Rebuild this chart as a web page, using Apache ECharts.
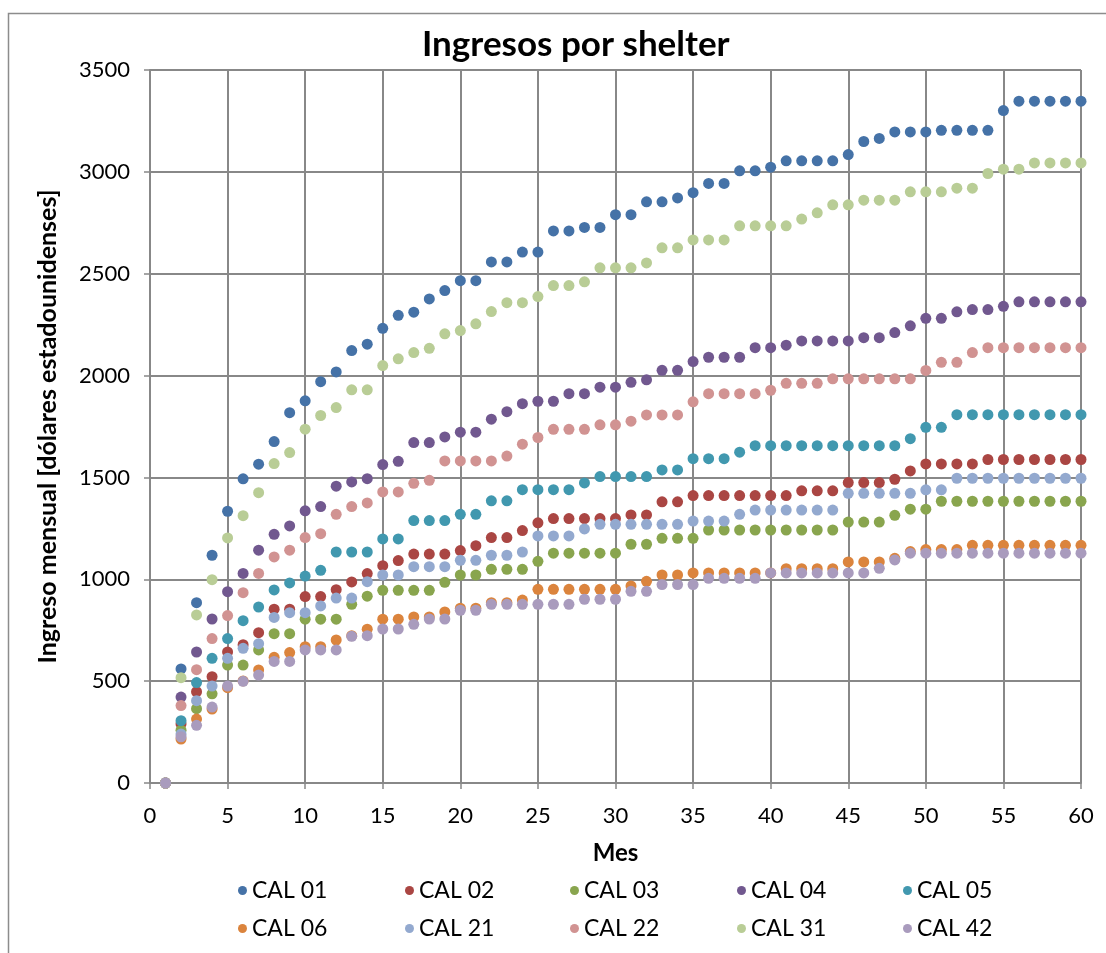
<!DOCTYPE html>
<html>
<head>
<meta charset="utf-8">
<style>
  html, body { margin: 0; padding: 0; background: #ffffff; }
  #chart { width: 1106px; height: 953px; }
</style>
<script src="https://cdn.jsdelivr.net/npm/echarts@6/dist/echarts.min.js"></script>
</head>
<body>
<div id="chart"></div>
<script>
// Months 1..60
const months = [1,2,3,4,5,6,7,8,9,10,11,12,13,14,15,16,17,18,19,20,
  21,22,23,24,25,26,27,28,29,30,31,32,33,34,35,36,37,38,39,40,
  41,42,43,44,45,46,47,48,49,50,51,52,53,54,55,56,57,58,59,60];

// Monthly income per shelter (USD)
const cal01 = [0,560,885,1118,1334,1493,1565,1676,1818,1876,1970,2018,2123,2154,2232,2296,2311,2376,2417,2466,
  2466,2558,2558,2606,2606,2710,2710,2727,2727,2790,2790,2853,2853,2872,2898,2943,2943,3005,3005,3023,
  3054,3054,3054,3054,3085,3149,3164,3196,3196,3196,3204,3204,3204,3204,3301,3347,3347,3347,3347,3347];
const cal02 = [0,290,448,522,643,679,738,853,853,915,915,949,987,1028,1067,1092,1124,1124,1124,1141,
  1165,1205,1205,1239,1277,1298,1298,1298,1298,1298,1316,1316,1380,1380,1411,1411,1411,1411,1411,1411,
  1411,1434,1434,1434,1475,1475,1475,1491,1532,1566,1566,1566,1566,1588,1588,1588,1588,1588,1588,1588];
const cal03 = [0,259,365,438,579,579,653,733,733,804,804,804,877,917,946,946,946,946,985,1021,
  1021,1049,1049,1049,1088,1128,1128,1128,1128,1128,1172,1172,1201,1201,1201,1242,1242,1242,1242,1242,
  1242,1242,1242,1242,1281,1281,1281,1314,1344,1344,1383,1383,1383,1383,1383,1383,1383,1383,1383,1383];
const cal04 = [0,422,643,805,939,1029,1143,1221,1262,1336,1357,1457,1478,1494,1563,1579,1671,1671,1699,1722,
  1722,1786,1823,1862,1874,1874,1911,1911,1943,1943,1967,1979,2026,2026,2069,2090,2090,2090,2137,2137,
  2149,2170,2170,2170,2170,2186,2186,2211,2244,2281,2281,2313,2324,2324,2340,2362,2362,2362,2362,2362];
const cal05 = [0,306,493,612,709,797,864,948,982,1016,1044,1134,1134,1134,1198,1198,1288,1288,1288,1319,
  1319,1385,1385,1440,1440,1440,1440,1473,1504,1504,1504,1504,1537,1537,1592,1592,1592,1624,1656,1656,
  1656,1656,1656,1656,1656,1656,1656,1656,1690,1746,1746,1808,1808,1808,1808,1808,1808,1808,1808,1808];
const cal06 = [0,216,314,363,468,501,555,617,640,669,669,702,723,755,804,804,815,815,840,858,
  858,885,885,898,951,951,951,951,951,951,967,990,1021,1021,1031,1031,1031,1031,1031,1031,
  1052,1052,1052,1052,1085,1085,1085,1103,1136,1146,1146,1146,1167,1167,1167,1167,1167,1167,1167,1167];
const cal21 = [0,240,404,476,612,661,684,813,836,836,869,908,908,988,1021,1021,1062,1062,1062,1093,
  1093,1118,1118,1134,1213,1213,1213,1247,1270,1270,1270,1270,1270,1270,1286,1286,1286,1319,1340,1340,
  1340,1340,1340,1340,1422,1422,1422,1422,1422,1439,1439,1496,1496,1496,1496,1496,1496,1496,1496,1496];
const cal22 = [0,380,556,709,822,934,1029,1110,1143,1205,1224,1319,1357,1375,1429,1429,1471,1486,1581,1581,
  1581,1581,1605,1663,1696,1736,1736,1736,1758,1758,1776,1807,1807,1807,1871,1911,1911,1911,1911,1928,
  1962,1962,1962,1984,1984,1984,1984,1984,1984,2025,2065,2065,2113,2137,2137,2137,2137,2137,2137,2137];
const cal31 = [0,517,825,998,1203,1312,1425,1568,1622,1737,1804,1843,1930,1930,2049,2082,2113,2134,2205,2221,
  2254,2314,2358,2358,2388,2442,2442,2460,2529,2529,2529,2553,2627,2627,2666,2666,2666,2735,2735,2735,
  2735,2768,2799,2838,2838,2861,2861,2861,2902,2902,2902,2920,2920,2992,3013,3013,3044,3044,3044,3044];
const cal42 = [0,227,283,373,476,499,530,597,597,653,653,653,720,723,756,756,779,805,805,848,
  848,877,877,877,877,877,877,902,902,902,941,941,974,974,974,1005,1005,1005,1005,1031,
  1031,1031,1031,1031,1031,1031,1054,1095,1128,1128,1128,1128,1128,1128,1128,1128,1128,1128,1128,1128];

const seriesNames = ['CAL 01','CAL 02','CAL 03','CAL 04','CAL 05','CAL 06','CAL 21','CAL 22','CAL 31','CAL 42'];
const seriesValues = [cal01, cal02, cal03, cal04, cal05, cal06, cal21, cal22, cal31, cal42];
const seriesColors = ['#4572A7','#AA4643','#89A54E','#71588F','#4198AF','#DB843D','#93A9CF','#D19392','#B9CD96','#A99BBD'];

const xTicks = [0,5,10,15,20,25,30,35,40,45,50,55,60];
const yTicks = [0,500,1000,1500,2000,2500,3000,3500];

const FONT = 'Lato, "Open Sans", sans-serif';
const GRID_COLOR = '#888888';

const chart = echarts.init(document.getElementById('chart'), null, { renderer: 'canvas' });

const series = seriesNames.map((name, i) => ({
  name: name,
  type: 'scatter',
  symbol: 'circle',
  symbolSize: 11,
  itemStyle: { color: seriesColors[i], opacity: 1 },
  emphasis: { disabled: true },
  data: months.map((m, k) => [m, seriesValues[i][k]]),
  z: 2 + i
}));

// Legend laid out as a 5 x 2 table: one legend block per entry
const legendCols = [233, 400, 565, 732, 898];
const legendRows = [874, 912];
const legends = seriesNames.map((name, i) => ({
  left: legendCols[i % 5],
  top: legendRows[Math.floor(i / 5)],
  orient: 'horizontal',
  icon: 'circle',
  itemWidth: 9,
  itemHeight: 9,
  itemGap: 0,
  textStyle: { fontFamily: FONT, fontSize: 23, color: '#000' },
  selectedMode: false,
  data: [name]
}));

chart.setOption({
  animation: false,
  backgroundColor: '#ffffff',
  title: {
    text: 'Ingresos por shelter',
    left: 417,
    top: 22,
    textStyle: { fontFamily: FONT, fontSize: 35, fontWeight: 'bold', color: '#000' }
  },
  graphic: [{
    type: 'rect',
    shape: { x: 8.5, y: 13.5, width: 1200, height: 1000 },
    style: { fill: null, stroke: '#8c8c8c', lineWidth: 1.5 },
    silent: true,
    z: -1
  }],
  grid: { left: 150, right: 25, top: 70, bottom: 170, containLabel: false },
  xAxis: {
    type: 'value',
    min: xTicks[0],
    max: xTicks[xTicks.length - 1],
    interval: 5,
    name: 'Mes',
    nameLocation: 'middle',
    nameGap: 58,
    nameTextStyle: { fontFamily: FONT, fontSize: 24, fontWeight: 'bold', color: '#000' },
    axisLine: { show: true, lineStyle: { color: GRID_COLOR, width: 2 } },
    axisTick: { show: true, inside: false, length: 6, lineStyle: { color: GRID_COLOR, width: 1.5 } },
    axisLabel: { fontFamily: FONT, fontSize: 22, color: '#000', margin: 22, formatter: v => String(v) },
    splitLine: { show: true, lineStyle: { color: GRID_COLOR, width: 2 } }
  },
  yAxis: {
    type: 'value',
    min: yTicks[0],
    max: yTicks[yTicks.length - 1],
    interval: 500,
    name: 'Ingreso mensual [dólares estadounidenses]',
    nameLocation: 'middle',
    nameGap: 90,
    nameRotate: 90,
    nameTextStyle: { fontFamily: FONT, fontSize: 25, fontWeight: 'bold', color: '#000' },
    axisLine: { show: true, lineStyle: { color: GRID_COLOR, width: 2 } },
    axisTick: { show: true, inside: false, length: 6, lineStyle: { color: GRID_COLOR, width: 1.5 } },
    axisLabel: { fontFamily: FONT, fontSize: 22, color: '#000', margin: 20, formatter: v => String(v) },
    splitLine: { show: true, lineStyle: { color: GRID_COLOR, width: 2 } }
  },
  legend: legends,
  series: series
});
</script>
</body>
</html>
